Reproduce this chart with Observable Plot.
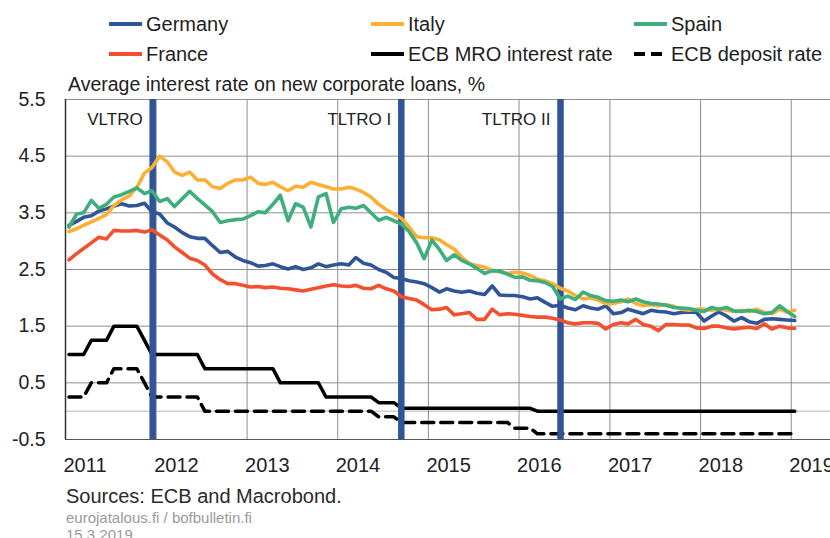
<!DOCTYPE html>
<html>
<head>
<meta charset="utf-8">
<script src="https://cdn.jsdelivr.net/npm/d3@7"></script>
<script src="https://cdn.jsdelivr.net/npm/@observablehq/plot@0.6"></script>
<style>
  html, body { margin: 0; padding: 0; background: #fff; overflow: hidden; }
  #wrap { position: relative; width: 830px; height: 538px; font-family: "Liberation Sans", Arial, sans-serif; color: #222; }
  #wrap > svg { position: absolute; left: 0; top: 0; }
  .txt { position: absolute; white-space: nowrap; line-height: 1; }
</style>
</head>
<body>
<div id="wrap"></div>
<script>
// ---------- DATA ----------
const seriesNames = ["Germany", "Italy", "Spain", "France"];
const seriesColors = ["#2F5597", "#FBB034", "#3DAE7C", "#F4502F"];
const rateNames = ["ECB MRO interest rate", "ECB deposit rate"];

// monthly observations, Jan 2011 – Jan 2019
const germany = [3.28,3.35,3.42,3.45,3.53,3.57,3.62,3.66,3.62,3.63,3.67,3.52,
  3.48,3.32,3.25,3.15,3.08,3.05,3.05,2.92,2.8,2.82,2.72,2.66,
  2.62,2.56,2.57,2.6,2.55,2.51,2.55,2.5,2.53,2.6,2.55,2.58,
  2.6,2.58,2.71,2.61,2.58,2.5,2.45,2.36,2.34,2.3,2.28,2.25,
  2.18,2.1,2.16,2.12,2.1,2.12,2.08,2.06,2.21,2.05,2.04,2.04,
  2.02,1.98,2.0,1.92,1.85,1.87,1.82,1.79,1.86,1.82,1.8,1.86,
  1.72,1.74,1.8,1.76,1.72,1.78,1.76,1.75,1.72,1.74,1.75,1.74,
  1.59,1.68,1.75,1.68,1.59,1.65,1.58,1.55,1.62,1.63,1.62,1.61,
  1.6];
const italy = [3.17,3.22,3.28,3.34,3.4,3.47,3.63,3.73,3.8,3.95,4.2,4.3,
  4.5,4.4,4.22,4.16,4.22,4.08,4.08,3.96,3.93,4.02,4.08,4.08,
  4.13,4.02,4.0,4.04,3.96,3.89,3.97,3.95,4.04,4.0,3.96,3.92,
  3.92,3.95,3.92,3.86,3.78,3.65,3.56,3.48,3.4,3.25,3.08,3.06,
  3.06,3.02,2.94,2.86,2.72,2.6,2.57,2.54,2.48,2.46,2.43,2.45,
  2.44,2.39,2.33,2.3,2.25,2.17,2.12,2.04,1.98,2.0,1.96,1.9,
  1.9,1.93,1.98,1.9,1.86,1.88,1.86,1.88,1.85,1.8,1.78,1.8,
  1.8,1.78,1.8,1.78,1.76,1.78,1.76,1.8,1.74,1.72,1.8,1.75,
  1.78];
const spain = [3.25,3.48,3.5,3.72,3.58,3.65,3.78,3.82,3.88,3.94,3.84,3.89,
  3.7,3.75,3.61,3.75,3.88,3.75,3.64,3.52,3.33,3.36,3.38,3.39,
  3.45,3.52,3.5,3.65,3.81,3.36,3.66,3.6,3.25,3.78,3.84,3.33,
  3.57,3.6,3.58,3.63,3.5,3.37,3.42,3.36,3.3,3.17,2.97,2.69,
  3.02,2.85,2.66,2.76,2.66,2.6,2.52,2.43,2.48,2.47,2.42,2.36,
  2.37,2.31,2.3,2.27,2.2,1.98,2.03,1.97,2.1,2.04,2.01,1.95,
  1.94,1.96,1.93,1.98,1.93,1.9,1.89,1.87,1.83,1.82,1.81,1.78,
  1.76,1.83,1.8,1.83,1.77,1.76,1.78,1.76,1.72,1.74,1.86,1.76,
  1.67];
const france = [2.67,2.78,2.87,2.97,3.07,3.04,3.19,3.18,3.18,3.19,3.16,3.2,
  3.11,3.02,2.9,2.8,2.7,2.66,2.58,2.42,2.32,2.25,2.25,2.22,
  2.19,2.2,2.18,2.19,2.17,2.16,2.14,2.12,2.15,2.18,2.21,2.23,
  2.21,2.2,2.22,2.17,2.16,2.22,2.16,2.12,2.02,1.99,1.96,1.88,
  1.79,1.8,1.83,1.7,1.72,1.74,1.62,1.62,1.8,1.7,1.72,1.71,
  1.69,1.67,1.66,1.66,1.64,1.61,1.56,1.54,1.56,1.56,1.55,1.45,
  1.53,1.56,1.54,1.62,1.53,1.5,1.42,1.53,1.53,1.52,1.52,1.47,
  1.46,1.5,1.5,1.47,1.45,1.47,1.48,1.46,1.54,1.45,1.5,1.47,
  1.46];
const mro = [1,1,1,1.25,1.25,1.25,1.5,1.5,1.5,1.5,1.25,1,
  1,1,1,1,1,1,0.75,0.75,0.75,0.75,0.75,0.75,
  0.75,0.75,0.75,0.75,0.5,0.5,0.5,0.5,0.5,0.5,0.25,0.25,
  0.25,0.25,0.25,0.25,0.25,0.15,0.15,0.15,0.05,0.05,0.05,0.05,
  0.05,0.05,0.05,0.05,0.05,0.05,0.05,0.05,0.05,0.05,0.05,0.05,
  0.05,0.05,0,0,0,0,0,0,0,0,0,0,
  0,0,0,0,0,0,0,0,0,0,0,0,
  0,0,0,0,0,0,0,0,0,0,0,0,
  0];
const deposit = [0.25,0.25,0.25,0.5,0.5,0.5,0.75,0.75,0.75,0.75,0.5,0.25,
  0.25,0.25,0.25,0.25,0.25,0.25,0,0,0,0,0,0,
  0,0,0,0,0,0,0,0,0,0,0,0,
  0,0,0,0,0,-0.1,-0.1,-0.1,-0.2,-0.2,-0.2,-0.2,
  -0.2,-0.2,-0.2,-0.2,-0.2,-0.2,-0.2,-0.2,-0.2,-0.2,-0.2,-0.3,
  -0.3,-0.3,-0.4,-0.4,-0.4,-0.4,-0.4,-0.4,-0.4,-0.4,-0.4,-0.4,
  -0.4,-0.4,-0.4,-0.4,-0.4,-0.4,-0.4,-0.4,-0.4,-0.4,-0.4,-0.4,
  -0.4,-0.4,-0.4,-0.4,-0.4,-0.4,-0.4,-0.4,-0.4,-0.4,-0.4,-0.4,
  -0.4];

const eventNames = ["VLTRO", "TLTRO I", "TLTRO II"];
const eventDates = ["2011-12-18", "2014-09-14", "2016-06-16"];
const yTicks = [-0.5, 0.5, 1.5, 2.5, 3.5, 4.5, 5.5];
const yearTicks = ["2011","2012","2013","2014","2015","2016","2017","2018","2019"];

const titleText = "Average interest rate on new corporate loans, %";
const sourceText = "Sources: ECB and Macrobond.";
const siteText = "eurojatalous.fi / bofbulletin.fi";
const dateText = "15.3.2019";

// ---------- BUILD ----------
const FONT = '"Liberation Sans", Arial, sans-serif';
const months = d3.utcMonth.range(new Date(Date.UTC(2011, 0, 1)), new Date(Date.UTC(2019, 1, 1)))
  .map(d => d3.utcDay.offset(d, 14));
const countryArrays = [germany, italy, spain, france];
const countryRows = [];
seriesNames.forEach((name, k) => {
  months.forEach((date, i) => countryRows.push({date, value: countryArrays[k][i], series: name}));
});
const mroRows = months.map((date, i) => ({date, value: mro[i]}));
const depRows = months.map((date, i) => ({date, value: deposit[i]}));
const events = eventNames.map((name, i) => ({name, date: new Date(eventDates[i] + "T00:00Z")}));
const years = yearTicks.map(y => new Date(y + "-01-01T00:00Z"));
const xStart = new Date("2011-01-01T00:00Z");
const xEnd = new Date("2019-06-08T00:00Z");

const chart = Plot.plot({
  width: 830,
  height: 538,
  marginTop: 99,
  marginRight: 0,
  marginBottom: 99,
  marginLeft: 65,
  style: {fontFamily: FONT, background: "transparent", color: "#222", overflow: "visible"},
  x: {type: "utc", domain: [xStart, xEnd], label: null},
  y: {domain: [-0.5, 5.5], label: null},
  color: {domain: seriesNames, range: seriesColors},
  marks: [
    Plot.gridY(yTicks, {stroke: "#8f8f8f", strokeOpacity: 1, strokeWidth: 1}),
    Plot.gridY([0], {stroke: "#b5b5b5", strokeOpacity: 1, strokeWidth: 1}),
    Plot.gridX(years, {stroke: "#8f8f8f", strokeOpacity: 1, strokeWidth: 1}),
    Plot.ruleX([xStart], {stroke: "#333", strokeWidth: 1.5}),
    Plot.ruleY([-0.5], {stroke: "#555", strokeWidth: 1.2}),
    Plot.axisY(yTicks, {tickSize: 0, tickPadding: 20, fontSize: 19.5, fill: "#222", tickFormat: d => d.toFixed(1)}),
    Plot.axisX(years, {tickSize: 0, tickPadding: 18, fontSize: 20, fill: "#222", textAnchor: "start", dx: -2, tickFormat: d3.utcFormat("%Y")}),
    Plot.line(depRows, {x: "date", y: "value", stroke: "#000", strokeWidth: 3.5, strokeDasharray: "12,7"}),
    Plot.line(mroRows, {x: "date", y: "value", stroke: "#000", strokeWidth: 3.5, strokeLinejoin: "round"}),
    Plot.ruleX(events, {x: "date", stroke: "#2F5597", strokeWidth: 6.5}),
    Plot.text(events, {x: "date", text: "name", frameAnchor: "top", textAnchor: "end", lineAnchor: "bottom", dx: -10, dy: 25, fontSize: 17, fill: "#222"}),
    Plot.line(countryRows, {x: "date", y: "value", z: "series", stroke: "series", strokeWidth: 3.6, strokeLinejoin: "round", strokeLinecap: "round"})
  ]
});

const wrap = document.getElementById("wrap");
wrap.appendChild(chart);

function addText(str, x, baseline, size, color) {
  const el = document.createElement("div");
  el.className = "txt";
  el.textContent = str;
  el.style.left = x + "px";
  el.style.top = (baseline - 0.8465 * size) + "px";
  el.style.fontSize = size + "px";
  el.style.color = color;
  wrap.appendChild(el);
}

// legend
const legendItems = [
  {name: seriesNames[0], color: seriesColors[0], dash: null, col: 0, row: 0},
  {name: seriesNames[1], color: seriesColors[1], dash: null, col: 1, row: 0},
  {name: seriesNames[2], color: seriesColors[2], dash: null, col: 2, row: 0},
  {name: seriesNames[3], color: seriesColors[3], dash: null, col: 0, row: 1},
  {name: rateNames[0], color: "#000", dash: null, col: 1, row: 1},
  {name: rateNames[1], color: "#000", dash: "11,6", col: 2, row: 1}
];
const colX = [108, 370, 633];
const rowY = [23.5, 53.5];
legendItems.forEach(it => {
  const x = colX[it.col], y = rowY[it.row];
  const svg = d3.create("svg").attr("width", 36).attr("height", 8)
    .style("position", "absolute").style("left", x + "px").style("top", (y - 4) + "px");
  svg.append("line").attr("x1", 1).attr("x2", it.dash ? 29 : 34).attr("y1", 4).attr("y2", 4)
    .attr("stroke", it.color).attr("stroke-width", 4)
    .attr("stroke-dasharray", it.dash || null);
  wrap.appendChild(svg.node());
  addText(it.name, x + (it.dash ? 38 : 38), y + 7, 20, "#1e1e1e");
});

addText(titleText, 68, 92, 19.5, "#222");
addText(sourceText, 66, 502.5, 20, "#2a2a2a");
addText(siteText, 66, 523, 15, "#9a9a9a");
addText(dateText, 66, 539.5, 15, "#9a9a9a");
</script>
</body>
</html>
